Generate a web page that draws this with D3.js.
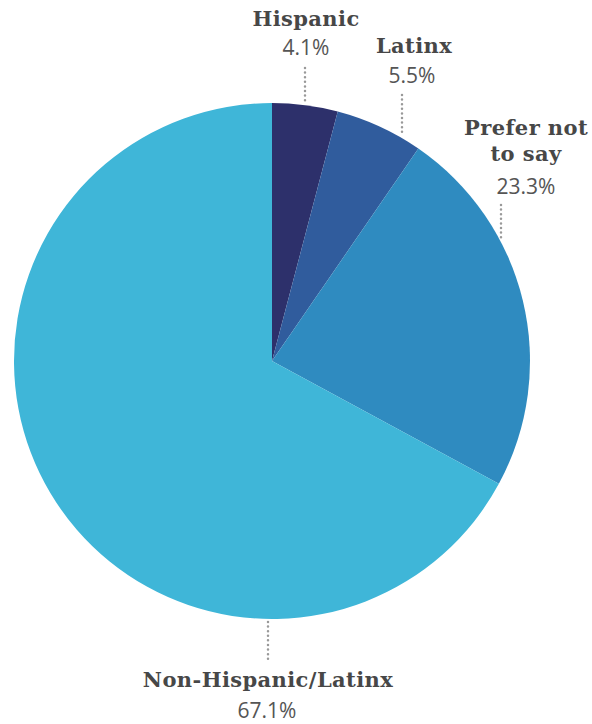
<!DOCTYPE html>
<html>
<head>
<meta charset="utf-8">
<script src="https://cdn.jsdelivr.net/npm/d3@7"></script>
<style>
  body { margin: 0; background: #fff; }
  svg { display: block; }
</style>
</head>
<body>
<svg class="pie-chart"></svg>
<script>
const categories = ['Hispanic', 'Latinx', 'Prefer not to say', 'Non-Hispanic/Latinx'];
const values = [4.1, 5.5, 23.3, 67.1];
const valueLabels = ['4.1%', '5.5%', '23.3%', '67.1%'];
const nameLines = [['Hispanic'], ['Latinx'], ['Prefer not', 'to say'], ['Non-Hispanic/Latinx']];
const colors = ['#2d306b', '#305c9d', '#2f8bc0', '#3fb6d8'];

const width = 592,
      height = 724,
      cx = 272,
      cy = 361,
      radius = 258;

// where each label sits (leader x, text centre, baselines, top or bottom of pie)
const labelLayout = [
  {leaderX: 305, leaderTop: 68, textX: 306, nameY: 26, pctX: 306, pctY: 55, side: 'top'},
  {leaderX: 402, leaderTop: 95, textX: 414, nameY: 53, pctX: 412, pctY: 83, side: 'top'},
  {leaderX: 501, leaderTop: 205, textX: 526, nameY: 135, pctX: 526, pctY: 194, side: 'top'},
  {leaderX: 268, leaderTop: 660, textX: 268, nameY: 687, pctX: 267, pctY: 718, side: 'bottom'}
];

const svg = d3.select('.pie-chart')
              .attr('width', width)
              .attr('height', height);

const pie = d3.pie()
              .sort(null)
              .value(d => d);

const arc = d3.arc()
              .innerRadius(0)
              .outerRadius(radius);

const slices = pie(values);

svg.append('g')
   .attr('transform', 'translate(' + cx + ',' + cy + ')')
   .selectAll('path')
   .data(slices)
   .enter()
   .append('path')
   .attr('d', arc)
   .attr('fill', (d, i) => colors[i]);

// dotted leaders, ending on the pie edge
labelLayout.forEach((l, i) => {
  const dx = l.leaderX - cx;
  const edge = Math.sqrt(radius * radius - dx * dx);
  const y1 = l.side === 'top' ? l.leaderTop : cy + edge + 3;
  const y2 = l.side === 'top' ? cy - edge - 3 : l.leaderTop;
  svg.append('line')
     .attr('x1', l.leaderX)
     .attr('x2', l.leaderX)
     .attr('y1', y1)
     .attr('y2', y2)
     .attr('stroke', '#999')
     .attr('stroke-width', 2.5)
     .attr('stroke-linecap', 'round')
     .attr('stroke-dasharray', '0,4.6');

  nameLines[i].forEach((t, j) => {
    svg.append('text')
       .attr('x', l.textX)
       .attr('y', l.nameY + j * 26)
       .attr('text-anchor', 'middle')
       .attr('font-family', 'DejaVu Serif')
       .attr('font-weight', 'bold')
       .attr('font-size', 21)
       .attr('letter-spacing', 0.4)
       .attr('fill', '#474747')
       .text(t);
  });

  svg.append('text')
     .attr('x', l.pctX)
     .attr('y', l.pctY)
     .attr('text-anchor', 'middle')
     .attr('font-family', 'Open Sans')
     .attr('font-size', 21)
     .attr('fill', '#555')
     .text(valueLabels[i]);
});
</script>
</body>
</html>
